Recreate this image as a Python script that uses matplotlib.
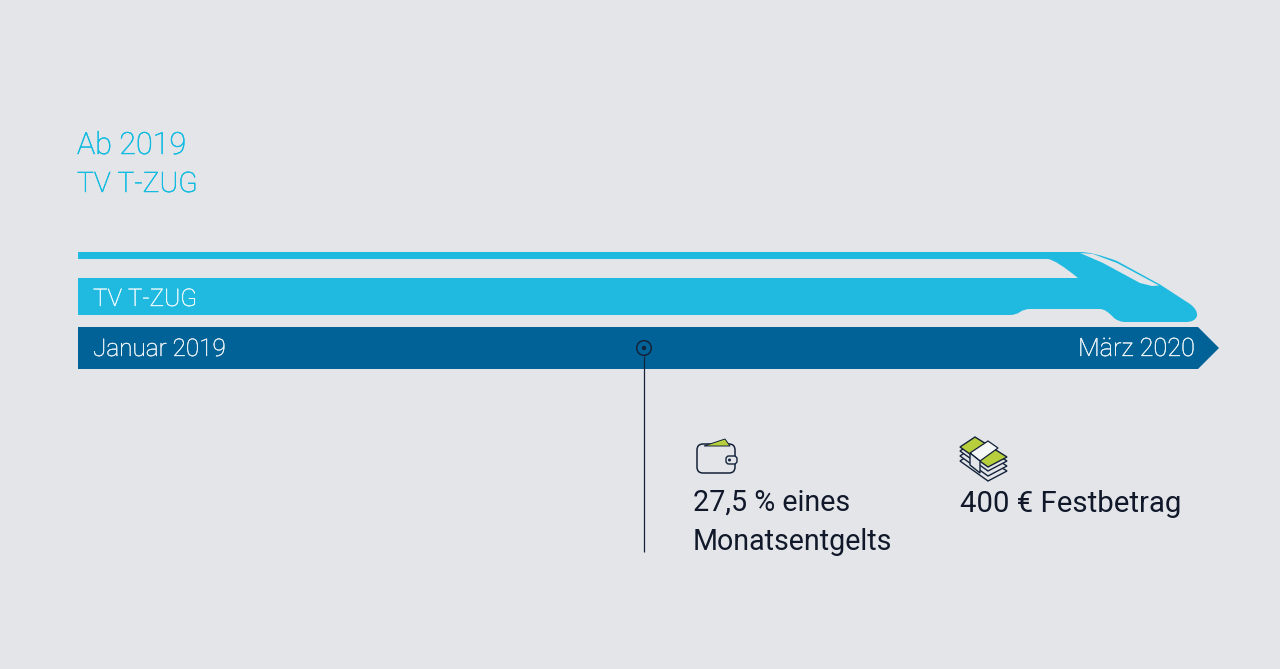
import matplotlib
matplotlib.use("Agg")
import matplotlib.pyplot as plt
import matplotlib.patheffects as pe
from matplotlib.patches import Polygon, PathPatch, Circle, FancyBboxPatch
from matplotlib.path import Path

W, H = 1280, 669
BG = "#e3e5e9"
CYAN = "#20bae0"
CYAN_T = "#0fbbe0"
NAVY = "#006296"
INK = "#14233a"
LIME = "#b7cf3c"
FONT = ["Roboto", "Open Sans", "DejaVu Sans"]

heading_lines = ["Ab 2019", "TV T-ZUG"]
train_label = "TV T-ZUG"
start_label = "Januar 2019"
end_label = "März 2020"
benefit_one = ["27,5 % eines", "Monatsentgelts"]
benefit_two = ["400 € Festbetrag"]

fig = plt.figure(figsize=(W / 100, H / 100), dpi=100, facecolor=BG)
ax = fig.add_axes([0, 0, 1, 1])
ax.set_xlim(0, W)
ax.set_ylim(H, 0)
ax.axis("off")


def txt(x, y, s, size, color, stroke=0.0, **kw):
    t = ax.text(x, y, s, fontsize=size, color=color, family=FONT, va="baseline",
                fontweight=kw.pop("weight", "normal"), zorder=8, **kw)
    if stroke:
        t.set_path_effects([pe.withStroke(linewidth=stroke, foreground=color)])


# Train silhouette
M, L, C = Path.MOVETO, Path.LINETO, Path.CURVE3
train = [
    ((78, 252), M), ((1080, 252), L), ((1093, 252), C), ((1117, 261), L),
    ((1160, 284.5), L), ((1190, 304), L), ((1198, 310), C), ((1197, 316), L),
    ((1195, 322), C), ((1186, 322), L), ((1125, 322), L), ((1119, 322), C),
    ((1114, 318), L), ((1106, 309), C), ((1100, 309), L), ((1030, 309), L),
    ((1024, 309), C), ((1020, 312), L), ((1016, 315), C), ((1010, 315), L),
    ((78, 315), L), ((78, 278), L), ((1078, 278), L), ((1056, 260), C),
    ((1048, 259), L), ((78, 259), L), ((78, 252), L),
]
ax.add_patch(PathPatch(Path([p for p, _ in train], [c for _, c in train]),
                       fc=CYAN, ec="none", zorder=2))
# Windscreen
screen = [(1080, 253), (1093, 254), (1117, 263), (1159, 285.5), (1152, 286),
          (1140, 283), (1103, 263)]
ax.add_patch(Polygon(screen, closed=True, fc=BG, ec="none", zorder=3))

# Timeline arrow
ax.add_patch(Polygon([(78, 327), (1198, 327), (1219, 348), (1198, 369), (78, 369)],
                     closed=True, fc=NAVY, ec="none", zorder=2))

# Heading and labels
for y, s, size in zip([154, 192], heading_lines, [22, 20.3]):
    txt(77, y, s, size, CYAN_T, stroke=0.35, weight="light")
txt(93, 306, train_label, 17.5, "#f2fbfe", stroke=0.25, weight="light")
txt(93, 356, start_label, 17.5, "#f2f7fa", stroke=0.25, weight="light")
txt(1195, 356, end_label, 18.2, "#f2f7fa", stroke=0.25, weight="light", ha="right")

# Marker with leader line
ax.plot([644, 644], [356, 552], color=INK, lw=0.9, zorder=5, solid_capstyle="butt")
ax.add_patch(Circle((644, 348), 7.3, fc="none", ec=INK, lw=1.1, zorder=5))
ax.add_patch(Circle((644, 348), 2.2, fc=INK, ec="none", zorder=5))

# Benefit texts
for y, s in zip([511, 550], benefit_one):
    txt(693, y, s, 20.6, "#10182a")
txt(960, 512, benefit_two[0], 21.2, "#10182a")

# Wallet icon
ax.add_patch(FancyBboxPatch((697, 444), 38, 29, boxstyle="round,pad=0,rounding_size=6",
                            fc=BG, ec=INK, lw=1.1, zorder=4))
ax.add_patch(Polygon([(704, 446), (725, 439), (730, 446)], closed=True, fc=LIME,
                     ec=INK, lw=0.7, zorder=5))
ax.add_patch(FancyBboxPatch((726, 456), 11, 8, boxstyle="round,pad=0,rounding_size=3",
                            fc=BG, ec=INK, lw=1.0, zorder=6))
ax.add_patch(Circle((729.5, 460), 1.5, fc=INK, ec="none", zorder=7))

# Banknotes icon: stacked sheets
for dy, z in ((14, 4.0), (9, 4.1), (4, 4.2)):
    ax.add_patch(Polygon([(960, 447 + dy), (975, 437 + dy), (1007, 457 + dy), (988, 467 + dy)],
                         closed=True, fc=BG, ec=INK, lw=1.0, zorder=z))
ax.add_patch(Polygon([(960, 447), (975, 437), (1007, 457), (988, 467)], closed=True,
                     fc=LIME, ec=INK, lw=1.0, zorder=6))
ax.add_patch(Polygon([(970, 453), (988, 441), (998, 448), (980, 461)], closed=True,
                     fc="#f6f7f7", ec=INK, lw=0.9, zorder=7))
ax.add_patch(Polygon([(970, 453), (980, 461), (980, 473), (970, 465)], closed=True,
                     fc=BG, ec=INK, lw=1.0, zorder=7))

fig.savefig("out.png", dpi=100, facecolor=BG)
